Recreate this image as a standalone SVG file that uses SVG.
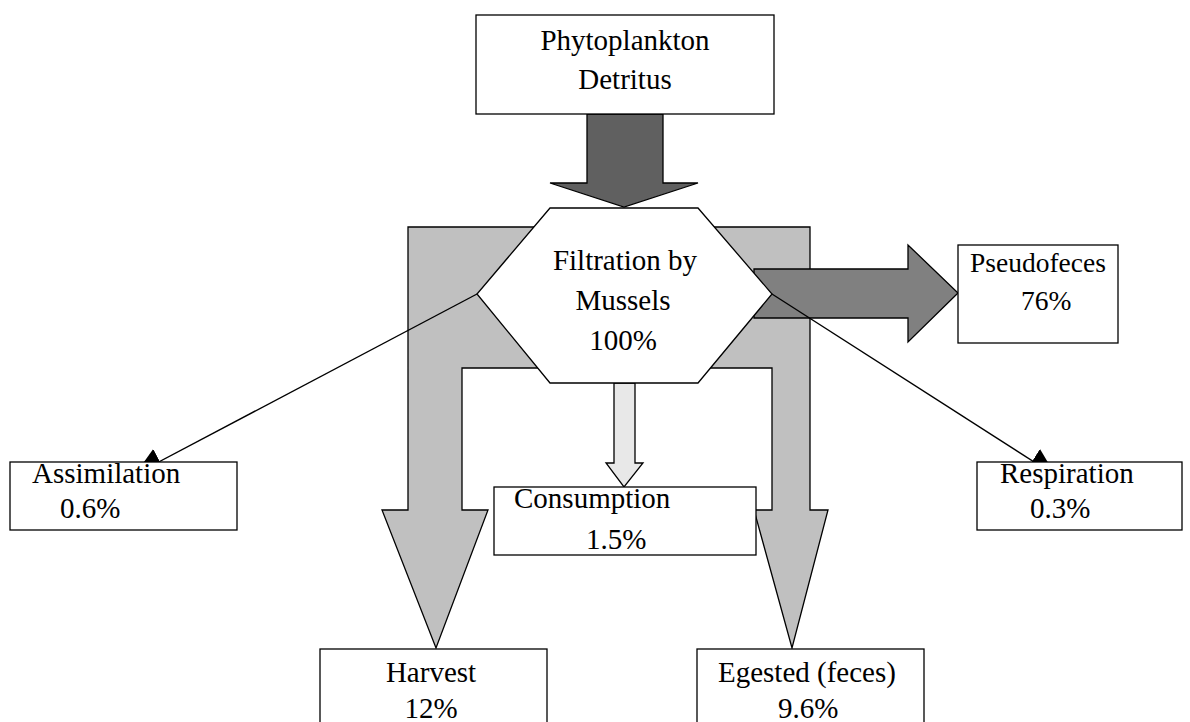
<svg xmlns="http://www.w3.org/2000/svg" width="1190" height="722" viewBox="0 0 1190 722">
<style>
.box{fill:#fff;stroke:#000;stroke-width:1.3}
.t{font-family:"Liberation Serif","Times New Roman","DejaVu Serif",serif;font-size:29px;fill:#000}
.s{font-size:27.5px}
.c{text-anchor:middle}
.flow{stroke:#000;stroke-width:1.3;stroke-linejoin:miter}
.ln{stroke:#000;stroke-width:1.4;fill:none}
</style>
<defs>
<marker id="ah" viewBox="0 0 28 28" refX="28" refY="14" markerWidth="28" markerHeight="28" markerUnits="userSpaceOnUse" orient="auto">
<path d="M0,0 L28,14 L0,28 Z" fill="#000"/>
</marker>
</defs>
<rect width="1190" height="722" fill="#fff"/>
<g id="connectors">
<path class="flow" fill="#c0c0c0" d="M408,227 L810,227 L810,510 L828,510 L792,648 L754,510 L772,510 L772,368 L462,368 L462,510 L488,510 L436,648 L382,510 L408,510 Z"/>
<path class="flow" fill="#606060" d="M587,114 L663,114 L663,183 L698,183 L624,207 L550,183 L587,183 Z"/>
<path class="flow" fill="#808080" d="M754,269 L908,269 L908,245 L958,293 L908,342 L908,318 L754,318 Z"/>
<path class="flow" fill="#e8e8e8" d="M614,383 L635,383 L635,463 L643,463 L624,487 L606,463 L614,463 Z"/>
<line class="ln" x1="477" y1="294" x2="135" y2="474.5" marker-end="url(#ah)"/>
<line class="ln" x1="772" y1="294" x2="1056" y2="476" marker-end="url(#ah)"/>
</g>
<g id="source">
<rect class="box" x="476" y="15" width="298" height="99"/>
<text class="t c" x="625" y="50">Phytoplankton</text>
<text class="t c" x="625" y="89">Detritus</text>
</g>
<g id="filtration">
<polygon class="box" points="550,208 698,208 772,294 698,383 550,383 477,294"/>
<text class="t c" x="625" y="270">Filtration by</text>
<text class="t c" x="623" y="310">Mussels</text>
<text class="t c" x="623" y="350">100%</text>
</g>
<g id="pseudofeces">
<rect class="box" x="958" y="245" width="160" height="98"/>
<text class="t s" x="970" y="272">Pseudofeces</text>
<text class="t s" x="1021" y="310">76%</text>
</g>
<g id="assimilation">
<rect class="box" x="10" y="462" width="227" height="68"/>
<text class="t" x="32" y="483">Assimilation</text>
<text class="t" x="60" y="518">0.6%</text>
</g>
<g id="respiration">
<rect class="box" x="977" y="462" width="205" height="68"/>
<text class="t" x="1000" y="483">Respiration</text>
<text class="t" x="1030" y="518">0.3%</text>
</g>
<g id="consumption">
<rect class="box" x="494" y="487" width="262" height="68"/>
<text class="t" x="514" y="508">Consumption</text>
<text class="t" x="586" y="549">1.5%</text>
</g>
<g id="harvest">
<rect class="box" x="320" y="649" width="227" height="90"/>
<text class="t c" x="431" y="682">Harvest</text>
<text class="t c" x="431" y="718">12%</text>
</g>
<g id="egested">
<rect class="box" x="697" y="649" width="227" height="90"/>
<text class="t" x="718" y="682">Egested (feces)</text>
<text class="t" x="778" y="718">9.6%</text>
</g>
</svg>
